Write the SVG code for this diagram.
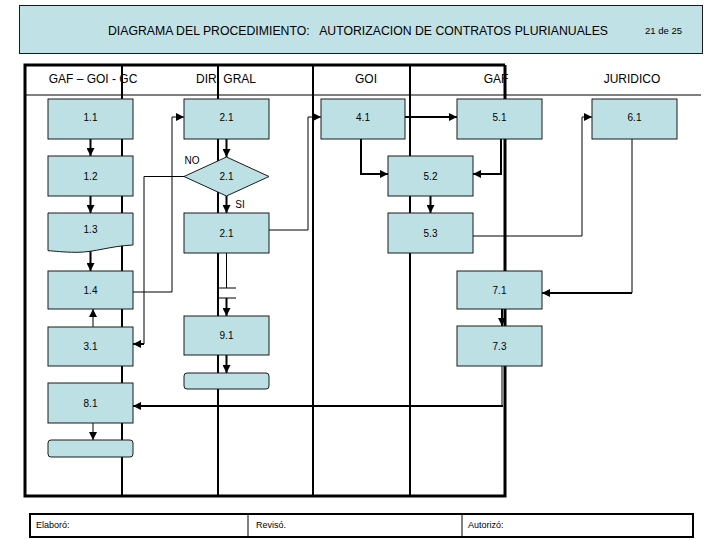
<svg xmlns="http://www.w3.org/2000/svg" width="720" height="540" viewBox="0 0 720 540">
<style>
text{font-family:"Liberation Sans",Arial,sans-serif;fill:#000}
.n{fill:#BDE0E5;stroke:#1a1a1a;stroke-width:1}
.lbl{font-size:10px;text-anchor:middle}
.hd{font-size:12px;text-anchor:middle}
.ft{font-size:9px}
.c{fill:none;stroke:#000;stroke-width:1}
.ct{fill:none;stroke:#000;stroke-width:2}
.lane{stroke:#000;stroke-width:2}
.thick{fill:none;stroke:#000;stroke-width:3}
</style>
<defs>
<marker id="a" viewBox="0 0 8 8" refX="8" refY="4" markerWidth="8" markerHeight="8" markerUnits="userSpaceOnUse" orient="auto">
<path d="M0,0 L8,4 L0,8 Z" fill="#000"/>
</marker>
</defs>
<rect width="720" height="540" fill="#fff"/>
<g id="header">
<rect x="19.5" y="5.5" width="683" height="48" fill="#C0E2E6" stroke="#1a1a1a" stroke-width="1"/>
<text x="108" y="35" font-size="12" textLength="500" lengthAdjust="spacingAndGlyphs" xml:space="preserve">DIAGRAMA DEL PROCEDIMIENTO:   AUTORIZACION DE CONTRATOS PLURIANUALES</text>
<text x="645" y="34" font-size="9.5">21 de 25</text>
</g>
<g id="table">
<line x1="25" y1="95" x2="701" y2="95" stroke="#000" stroke-width="1"/>
<text class="hd" x="93" y="83">GAF – GOI - GC</text>
<text class="hd" x="226" y="83">DIR. GRAL</text>
<text class="hd" x="366" y="83">GOI</text>
<text class="hd" x="496" y="83">GAF</text>
<text class="hd" x="632" y="83">JURIDICO</text>
<line class="lane" x1="122" y1="65" x2="122" y2="496"/>
<line class="lane" x1="218" y1="65" x2="218" y2="496"/>
<line class="lane" x1="313" y1="65" x2="313" y2="496"/>
<line class="lane" x1="410" y1="65" x2="410" y2="496"/>
<path class="thick" d="M505,65 V496 H25 V65 H505"/>
</g>
<g id="connectors">
<line class="ct" x1="90.5" y1="139" x2="90.5" y2="156" marker-end="url(#a)"/>
<line class="ct" x1="90.5" y1="196" x2="90.5" y2="213" marker-end="url(#a)"/>
<line class="ct" x1="90.5" y1="251" x2="90.5" y2="271" marker-end="url(#a)"/>
<line class="c" x1="93" y1="327" x2="93" y2="309" marker-end="url(#a)"/>
<line class="c" x1="93" y1="423" x2="93" y2="440" marker-end="url(#a)"/>
<path class="c" d="M133,292 H172 V117 H184" marker-end="url(#a)"/>
<line class="ct" x1="226.5" y1="139" x2="226.5" y2="157" marker-end="url(#a)"/>
<line class="ct" x1="226.5" y1="196" x2="226.5" y2="213" marker-end="url(#a)"/>
<path class="c" d="M184,176.5 H144 V344"/>
<line class="ct" x1="144" y1="344" x2="133" y2="344" marker-end="url(#a)"/>
<path class="c" d="M269,230 H308 V117 H321" marker-end="url(#a)"/>
<line class="c" x1="226.5" y1="253" x2="226.5" y2="288"/>
<line class="c" x1="218" y1="288" x2="236" y2="288"/>
<line class="c" x1="218" y1="298" x2="236" y2="298"/>
<line class="ct" x1="226.5" y1="298" x2="226.5" y2="316" marker-end="url(#a)"/>
<line class="ct" x1="226.5" y1="355" x2="226.5" y2="373" marker-end="url(#a)"/>
<line class="ct" x1="405" y1="117" x2="457" y2="117" marker-end="url(#a)"/>
<path class="ct" d="M361,139 V174 H388" marker-end="url(#a)"/>
<path class="ct" d="M501,139 V174 H473" marker-end="url(#a)"/>
<line class="ct" x1="430.5" y1="196" x2="430.5" y2="213" marker-end="url(#a)"/>
<path class="c" d="M473,236 H582 V117 H592" marker-end="url(#a)"/>
<path class="c" d="M632,139 V293"/>
<line class="ct" x1="632" y1="293" x2="542" y2="293" marker-end="url(#a)"/>
<line class="ct" x1="502" y1="309" x2="502" y2="326" marker-end="url(#a)"/>
<path class="c" d="M502,366 V406"/>
<line class="ct" x1="503" y1="406" x2="133" y2="406" marker-end="url(#a)"/>
</g>
<g id="n11"><rect class="n" x="48" y="99" width="85" height="40"/><text class="lbl" x="90.5" y="121">1.1</text></g>
<g id="n12"><rect class="n" x="48" y="156" width="85" height="40"/><text class="lbl" x="90.5" y="180">1.2</text></g>
<g id="n13"><path class="n" d="M48,213 H133 V245 C110,246 95,252.3 77,252.3 C62,252.3 55,251 48,250.7 Z"/><text class="lbl" x="90.5" y="233">1.3</text></g>
<g id="n14"><rect class="n" x="48" y="271" width="85" height="38"/><text class="lbl" x="90.5" y="294">1.4</text></g>
<g id="n31"><rect class="n" x="48" y="327" width="85" height="39"/><text class="lbl" x="90.5" y="350">3.1</text></g>
<g id="n81"><rect class="n" x="48" y="383" width="85" height="40"/><text class="lbl" x="90.5" y="407">8.1</text></g>
<g id="n8end"><rect class="n" x="48" y="440" width="85" height="17" rx="3"/></g>
<g id="n21a"><rect class="n" x="184" y="99" width="85" height="40"/><text class="lbl" x="226.5" y="121">2.1</text></g>
<g id="n21d"><polygon class="n" points="184,176.5 226.5,157 269,176.5 226.5,196"/><text class="lbl" x="226.5" y="180">2.1</text><text class="lbl" x="192" y="164">NO</text><text class="lbl" x="240" y="208">SI</text></g>
<g id="n21b"><rect class="n" x="184" y="213" width="85" height="40"/><text class="lbl" x="226.5" y="237">2.1</text></g>
<g id="n91"><rect class="n" x="184" y="316" width="85" height="39"/><text class="lbl" x="226.5" y="339">9.1</text></g>
<g id="n9end"><rect class="n" x="184" y="373" width="85" height="16" rx="3"/></g>
<g id="n41"><rect class="n" x="321" y="99" width="84" height="40"/><text class="lbl" x="363" y="121">4.1</text></g>
<g id="n51"><rect class="n" x="457" y="99" width="85" height="40"/><text class="lbl" x="499.5" y="121">5.1</text></g>
<g id="n52"><rect class="n" x="388" y="156" width="85" height="40"/><text class="lbl" x="430.5" y="180">5.2</text></g>
<g id="n53"><rect class="n" x="388" y="213" width="85" height="40"/><text class="lbl" x="430.5" y="237">5.3</text></g>
<g id="n61"><rect class="n" x="592" y="99" width="85" height="40"/><text class="lbl" x="634.5" y="121">6.1</text></g>
<g id="n71"><rect class="n" x="457" y="271" width="85" height="38"/><text class="lbl" x="499.5" y="294">7.1</text></g>
<g id="n73"><rect class="n" x="457" y="326" width="85" height="40"/><text class="lbl" x="499.5" y="350">7.3</text></g>
<g id="footer">
<rect x="30" y="514" width="663" height="23" fill="#fff" stroke="#000" stroke-width="2"/>
<line x1="248" y1="514" x2="248" y2="537" stroke="#000" stroke-width="1"/>
<line x1="462" y1="514" x2="462" y2="537" stroke="#000" stroke-width="1"/>
<text class="ft" x="36" y="528">Elaboró:</text>
<text class="ft" x="256" y="528">Revisó.</text>
<text class="ft" x="468" y="528">Autorizó:</text>
</g>
</svg>
